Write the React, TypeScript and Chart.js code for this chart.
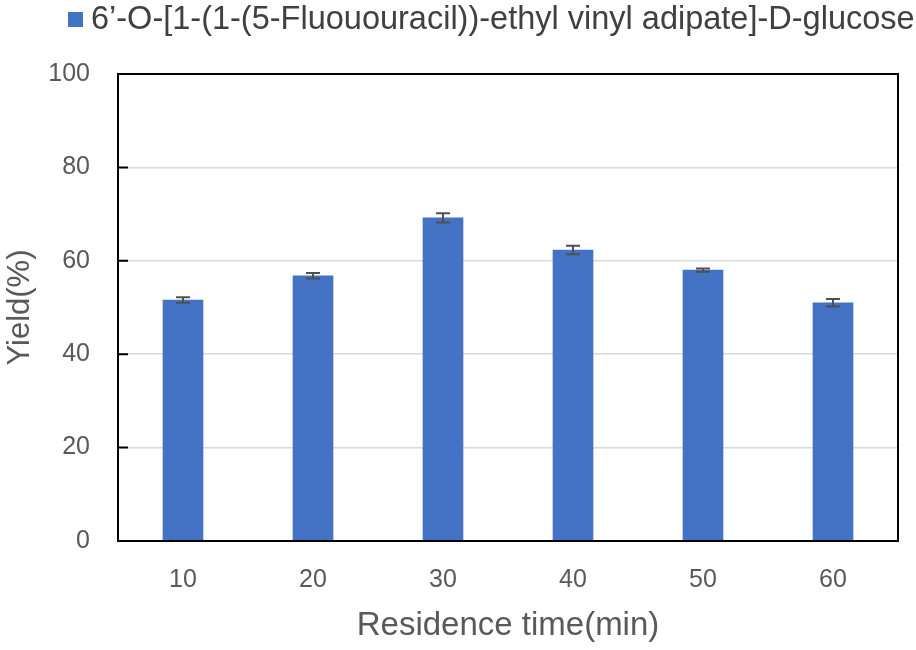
import React, { useEffect, useRef } from "react";
import { Chart, registerables } from "chart.js";

Chart.register(...registerables);

const categories = ["10", "20", "30", "40", "50", "60"];
const yieldValues = [51.6, 56.8, 69.2, 62.3, 58.0, 51.0];
const yieldErrors = [0.6, 0.6, 1.0, 0.9, 0.35, 0.8];
const yTickValues = [0, 20, 40, 60, 80, 100];
const seriesLabel = "6’-O-[1-(1-(5-Fluououracil))-ethyl vinyl adipate]-D-glucose";
const xTitle = "Residence time(min)";
const yTitle = "Yield(%)";

const BAR_COLOR = "#4472C4";
const FONT = "'Liberation Sans', Arial, sans-serif";

const errorBarPlugin = {
  id: "errorBars",
  afterDatasetsDraw(chart: any) {
    const ctx = chart.ctx;
    const yScale = chart.scales.y;
    const meta = chart.getDatasetMeta(0);
    ctx.save();
    ctx.strokeStyle = "#505050";
    ctx.lineWidth = 2;
    meta.data.forEach((bar: any, i: number) => {
      const v = yieldValues[i];
      const e = yieldErrors[i];
      const yTop = yScale.getPixelForValue(v + e);
      const yBot = yScale.getPixelForValue(v - e);
      const x = bar.x;
      ctx.beginPath();
      ctx.moveTo(x, yTop);
      ctx.lineTo(x, yBot);
      ctx.moveTo(x - 7, yTop);
      ctx.lineTo(x + 7, yTop);
      ctx.moveTo(x - 7, yBot);
      ctx.lineTo(x + 7, yBot);
      ctx.stroke();
    });
    ctx.restore();
  },
};

const framePlugin = {
  id: "frame",
  afterDraw(chart: any) {
    const { ctx, chartArea } = chart;
    const yScale = chart.scales.y;
    ctx.save();
    ctx.strokeStyle = "#000000";
    ctx.lineWidth = 2;
    ctx.strokeRect(chartArea.left, chartArea.top, chartArea.right - chartArea.left, chartArea.bottom - chartArea.top);
    ctx.beginPath();
    yTickValues.forEach((v) => {
      const y = yScale.getPixelForValue(v);
      ctx.moveTo(chartArea.left, y);
      ctx.lineTo(chartArea.left + 10, y);
    });
    ctx.stroke();
    ctx.restore();
  },
};

const legendPlugin = {
  id: "customLegend",
  afterDraw(chart: any) {
    const ctx = chart.ctx;
    ctx.save();
    ctx.fillStyle = BAR_COLOR;
    ctx.fillRect(68, 12, 15, 15);
    ctx.fillStyle = "#404040";
    ctx.font = `32.5px ${FONT}`;
    ctx.textBaseline = "middle";
    ctx.textAlign = "left";
    ctx.fillText(seriesLabel, 91, 20);
    ctx.restore();
  },
};

export default function App() {
  const canvasRef = useRef<HTMLCanvasElement | null>(null);

  useEffect(() => {
    if (!canvasRef.current) return;
    const chart = new Chart(canvasRef.current, {
      type: "bar",
      data: {
        labels: categories,
        datasets: [
          {
            label: seriesLabel,
            data: yieldValues,
            backgroundColor: BAR_COLOR,
            barThickness: 40,
          },
        ],
      },
      options: {
        animation: false,
        responsive: true,
        maintainAspectRatio: false,
        layout: { padding: { top: 74, right: 18, left: 0, bottom: 0 } },
        plugins: {
          legend: { display: false },
          tooltip: { enabled: false },
        },
        scales: {
          x: {
            grid: { display: false, drawTicks: false },
            border: { display: false },
            ticks: { color: "#595959", font: { family: FONT, size: 25 }, padding: 24 },
            title: {
              display: true,
              text: xTitle,
              color: "#595959",
              font: { family: FONT, size: 33 },
              padding: { top: 0, bottom: 4 },
            },
            afterFit: (scale: any) => {
              scale.height = 109;
            },
          },
          y: {
            min: 0,
            max: 100,
            afterBuildTicks: (scale: any) => {
              scale.ticks = yTickValues.map((v) => ({ value: v }));
            },
            grid: { color: "#d9d9d9", lineWidth: 1.5, drawTicks: false },
            border: { display: false },
            ticks: { color: "#595959", font: { family: FONT, size: 25 }, padding: 28 },
            title: {
              display: true,
              text: yTitle,
              color: "#595959",
              font: { family: FONT, size: 31 },
              padding: { top: 2, bottom: 0 },
            },
            afterFit: (scale: any) => {
              scale.width = 118;
            },
          },
        },
      },
      plugins: [errorBarPlugin, framePlugin, legendPlugin],
    });
    return () => chart.destroy();
  }, []);

  return (
    <div style={{ position: "fixed", left: 0, top: 0, width: 916, height: 650, background: "#ffffff" }}>
      <canvas ref={canvasRef} />
    </div>
  );
}
